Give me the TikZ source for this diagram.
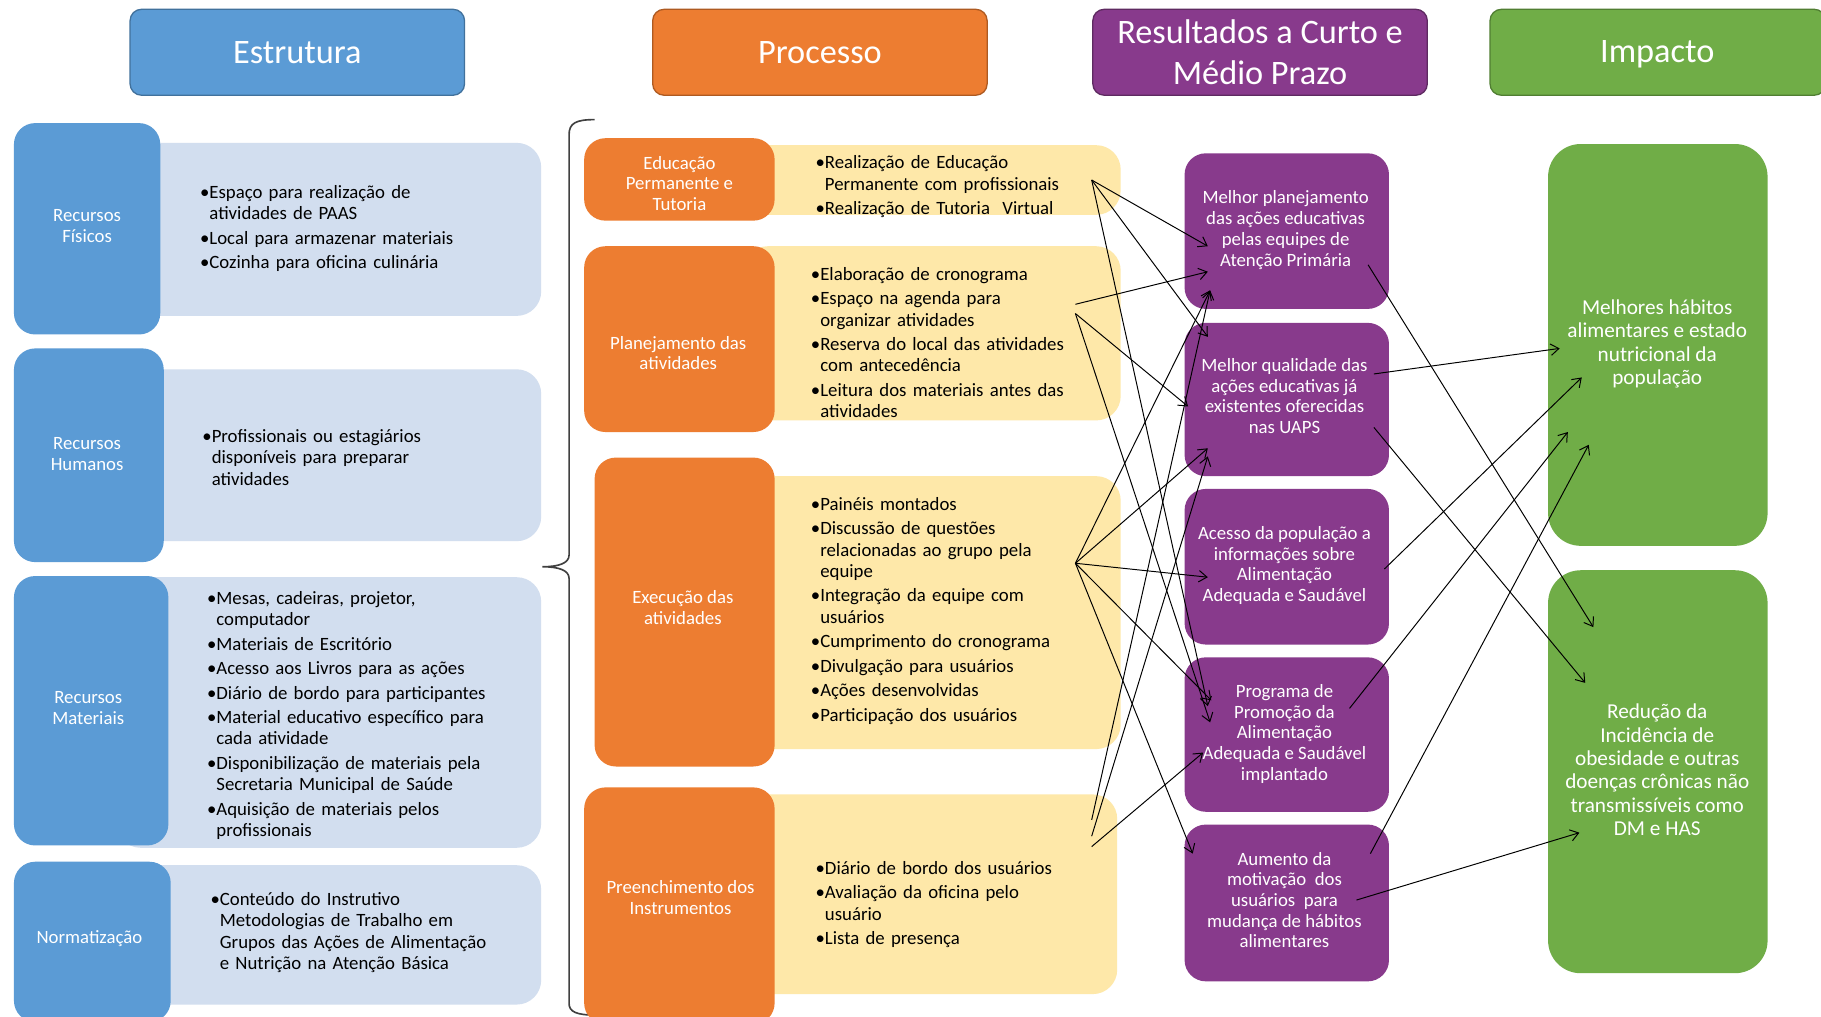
\documentclass[tikz,border=0pt]{standalone}
\usepackage{fontspec}
\setmainfont{Carlito}
\usetikzlibrary{fit,arrows.meta}

\definecolor{azul}{HTML}{5B9BD5}
\definecolor{azulesc}{HTML}{41719C}
\definecolor{azulclaro}{HTML}{D2DEEF}
\definecolor{laranja}{HTML}{ED7D31}
\definecolor{laranjaesc}{HTML}{AE5A21}
\definecolor{amarelo}{HTML}{FEE8A9}
\definecolor{roxo}{HTML}{883A8C}
\definecolor{roxoesc}{HTML}{5E2A61}
\definecolor{verde}{HTML}{70AD47}
\definecolor{verdeesc}{HTML}{507E32}

\newcommand{\itm}[1]{\par\setbox0\hbox{•}\hangindent=\wd0\hangafter=1\noindent\box0#1}

\tikzset{
  cab/.style={line width=0.8pt, rounded corners=7pt, inner sep=0pt},
  cabT/.style={text=white, align=center, inner sep=0pt, font=\fontsize{21}{25}\selectfont},
  caixa/.style={rounded corners=13pt, inner sep=0pt},
  fundo/.style={rounded corners=15pt, inner sep=0pt},
  lbl/.style={text=white, align=center, inner sep=0pt, font=\fontsize{11.5}{12.8}\selectfont},
  lista/.style={anchor=west, text width=210pt, align=left, inner sep=0pt,
    font=\fontsize{11.5}{13}\selectfont, execute at begin node={\setlength{\parskip}{2pt}}},
  res/.style={fill=roxo, rounded corners=13pt, inner sep=0pt},
  resT/.style={text=white, align=center, inner sep=0pt, font=\fontsize{11.5}{12.7}\selectfont},
  imp/.style={fill=verde, rounded corners=20pt, inner sep=0pt},
  impT/.style={text=white, align=center, inner sep=0pt, font=\fontsize{13}{14.3}\selectfont},
  seta/.style={-{Straight Barb[length=5pt,width=7pt]}, line width=0.6pt},
}

\begin{document}
\begin{tikzpicture}[x=0.025cm,y=-0.025cm]
  \useasboundingbox[fill=white] (0,0) rectangle (1568,875);

  % cabecalhos
  \node[cab, fill=azul, draw=azulesc, fit={(112,8) (400,82)}] (estrutura) {};
  \node[cab, fill=laranja, draw=laranjaesc, fit={(562,8) (850,82)}] (processo) {};
  \node[cab, fill=roxo, draw=roxoesc, fit={(941,8) (1229,82)}] (resultados) {};
  \node[cab, fill=verde, draw=verdeesc, fit={(1283,8) (1572,82)}] (impacto) {};
  \node[cabT] (estruturaT) at (estrutura.center) {Estrutura};
  \node[cabT] (processoT) at (processo.center) {Processo};
  \node[cabT] (resultadosT) at (resultados.center) {Resultados a Curto e\\Médio Prazo};
  \node[cabT] (impactoT) at (1427,47) {Impacto};

  % estrutura
  \node[fundo, fill=azulclaro, fit={(100,123) (466,272)}] (fisL) {};
  \node[fundo, fill=azulclaro, fit={(100,318) (466,466)}] (humL) {};
  \node[fundo, fill=azulclaro, fit={(100,497) (466,730)}] (matL) {};
  \node[fundo, fill=azulclaro, fit={(100,745) (466,865)}] (norL) {};

  \node[caixa, fill=azul, fit={(12,106) (138,288)}] (fis) {};
  \node[caixa, fill=azul, fit={(12,300) (141,484)}] (hum) {};
  \node[caixa, fill=azul, fit={(12,496) (145,728)}] (mat) {};
  \node[caixa, fill=azul, fit={(12,742) (147,880)}] (nor) {};

  \node[lbl] (fisT) at (75,195) {Recursos\\Físicos};
  \node[lbl] (humT) at (75,391) {Recursos\\Humanos};
  \node[lbl] (matT) at (76,610) {Recursos\\Materiais};
  \node[lbl] (norT) at (77,808) {Normatização};

  \node[lista] (fisI) at (172,192) {\itm{Espaço para realização de\newline atividades de PAAS}\itm{Local para armazenar materiais}\itm{Cozinha para oficina culinária}\par};
  \node[lista] (humI) at (174,389) {\itm{Profissionais ou estagiários\newline disponíveis para preparar\newline atividades}\par};
  \node[lista] (matI) at (178,611) {\itm{Mesas, cadeiras, projetor,\newline computador}\itm{Materiais de Escritório}\itm{Acesso aos Livros para as ações}\itm{Diário de bordo para participantes}\itm{Material educativo específico para\newline cada atividade}\itm{Disponibilização de materiais pela\newline Secretaria Municipal de Saúde}\itm{Aquisição de materiais pelos\newline profissionais}\par};
  \node[lista] (norI) at (181,798) {\itm{Conteúdo do Instrutivo\newline Metodologias de Trabalho em\newline Grupos das Ações de Alimentação\newline e Nutrição na Atenção Básica}\par};

  % chave
  \draw[line width=1pt, black!75] (512,103) .. controls (496,103) and (490,106) .. (490,116)
    -- (490,478) .. controls (490,485) and (481,488) .. (467,488)
    .. controls (481,488) and (490,491) .. (490,498)
    -- (490,864) .. controls (490,871) and (496,874) .. (512,874);

  % processo
  \node[fundo, fill=amarelo, fit={(640,125) (965,185)}] (eduL) {};
  \node[fundo, fill=amarelo, fit={(640,212) (965,362)}] (plaL) {};
  \node[fundo, fill=amarelo, fit={(640,410) (965,645)}] (exeL) {};
  \node[fundo, fill=amarelo, fit={(640,684) (962,856)}] (preL) {};

  \node[caixa, fill=laranja, fit={(503,119) (667,190)}] (edu) {};
  \node[caixa, fill=laranja, fit={(503,212) (667,372)}] (pla) {};
  \node[caixa, fill=laranja, fit={(512,394) (667,660)}] (exe) {};
  \node[caixa, fill=laranja, fit={(503,678) (667,882)}] (pre) {};

  \node[lbl] (eduT) at (585,158) {Educação\\Permanente e\\Tutoria};
  \node[lbl] (plaT) at (584,304) {Planejamento das\\atividades};
  \node[lbl] (exeT) at (588,523) {Execução das\\atividades};
  \node[lbl] (preT) at (586,773) {Preenchimento dos\\Instrumentos};

  \node[lista] (eduI) at (702,156) {\itm{Realização de Educação\newline Permanente com profissionais}\itm{Realização de Tutoria~ Virtual}\par};
  \node[lista] (plaI) at (698,290) {\itm{Elaboração de cronograma}\itm{Espaço na agenda para\newline organizar atividades}\itm{Reserva do local das atividades\newline com antecedência}\itm{Leitura dos materiais antes das\newline atividades}\par};
  \node[lista] (exeI) at (698,521) {\itm{Painéis montados}\itm{Discussão de questões\newline relacionadas ao grupo pela\newline equipe}\itm{Integração da equipe com\newline usuários}\itm{Cumprimento do cronograma}\itm{Divulgação para usuários}\itm{Ações desenvolvidas}\itm{Participação dos usuários}\par};
  \node[lista] (preI) at (702,774) {\itm{Diário de bordo dos usuários}\itm{Avaliação da oficina pelo\newline usuário}\itm{Lista de presença}\par};

  % resultados
  \node[res, fit={(1020,132) (1196,266)}] (r1) {};
  \node[res, fit={(1020,278) (1196,410)}] (r2) {};
  \node[res, fit={(1020,421) (1196,555)}] (r3) {};
  \node[res, fit={(1020,566) (1196,699)}] (r4) {};
  \node[res, fit={(1020,710) (1196,845)}] (r5) {};
  \node[resT] (r1T) at (1107,198) {Melhor planejamento\\das ações educativas\\pelas equipes de\\Atenção Primária};
  \node[resT] (r2T) at (1106,341) {Melhor qualidade das\\ações educativas já\\existentes oferecidas\\nas UAPS};
  \node[resT] (r3T) at (1106,487) {Acesso da população a\\informações sobre\\Alimentação\\Adequada e Saudável};
  \node[resT] (r4T) at (1106,632) {Programa de\\Promoção da\\Alimentação\\Adequada e Saudável\\implantado};
  \node[resT] (r5T) at (1106,775) {Aumento da\\motivação~ dos\\usuários~ para\\mudança de hábitos\\alimentares};

  % impacto
  \node[imp, fit={(1333,124) (1522,470)}] (i1) {};
  \node[imp, fit={(1333,491) (1522,838)}] (i2) {};
  \node[impT] (i1T) at (1427,296) {Melhores hábitos\\alimentares e estado\\nutricional da\\população};
  \node[impT] (i2T) at (1427,663) {Redução da\\Incidência de\\obesidade e outras\\doenças crônicas não\\transmissíveis como\\DM e HAS};

  % pontas das setas
  \coordinate (eduS) at (940,155);
  \coordinate (plaS1) at (926,262);
  \coordinate (plaS2) at (926,270);
  \coordinate (exeS) at (926,485);
  \coordinate (preS1) at (940,706);
  \coordinate (preS2) at (940,720);
  \coordinate (preS3) at (940,729);

  \coordinate (r1E1) at (1040,212);
  \coordinate (r1E2) at (1040,234);
  \coordinate (r1E3) at (1042,250);
  \coordinate (r2E1) at (1040,290);
  \coordinate (r2E2) at (1023,350);
  \coordinate (r2E3) at (1040,386);
  \coordinate (r2E4) at (1040,393);
  \coordinate (r3E) at (1040,497);
  \coordinate (r4E1) at (1043,603);
  \coordinate (r4E2) at (1040,608);
  \coordinate (r4E3) at (1042,622);
  \coordinate (r4E4) at (1036,648);
  \coordinate (r5E) at (1027,735);

  \coordinate (r1S) at (1178,228);
  \coordinate (r2S1) at (1183,322);
  \coordinate (r2S2) at (1183,368);
  \coordinate (r3S) at (1192,490);
  \coordinate (r4S) at (1162,610);
  \coordinate (r5S1) at (1180,735);
  \coordinate (r5S2) at (1168,775);

  \coordinate (i1E1) at (1343,300);
  \coordinate (i1E2) at (1362,325);
  \coordinate (i1E3) at (1350,372);
  \coordinate (i1E4) at (1368,383);
  \coordinate (i2E1) at (1372,540);
  \coordinate (i2E2) at (1365,588);
  \coordinate (i2E3) at (1360,717);

  % processo -> resultados
  \draw[seta] (eduS) -- (r1E1);
  \draw[seta] (eduS) -- (r2E1);
  \draw[seta] (eduS) -- (r4E2);
  \draw[seta] (plaS1) -- (r1E2);
  \draw[seta] (plaS2) -- (r2E2);
  \draw[seta] (plaS2) -- (r4E3);
  \draw[seta] (exeS) -- (r1E3);
  \draw[seta] (exeS) -- (r2E3);
  \draw[seta] (exeS) -- (r3E);
  \draw[seta] (exeS) -- (r4E1);
  \draw[seta] (exeS) -- (r5E);
  \draw[seta] (preS1) -- (r1E3);
  \draw[seta] (preS2) -- (r2E4);
  \draw[seta] (preS3) -- (r4E4);

  % resultados -> impacto
  \draw[seta] (r1S) -- (i2E1);
  \draw[seta] (r2S1) -- (i1E1);
  \draw[seta] (r2S2) -- (i2E2);
  \draw[seta] (r3S) -- (i1E2);
  \draw[seta] (r4S) -- (i1E3);
  \draw[seta] (r5S1) -- (i1E4);
  \draw[seta] (r5S2) -- (i2E3);
\end{tikzpicture}
\end{document}
